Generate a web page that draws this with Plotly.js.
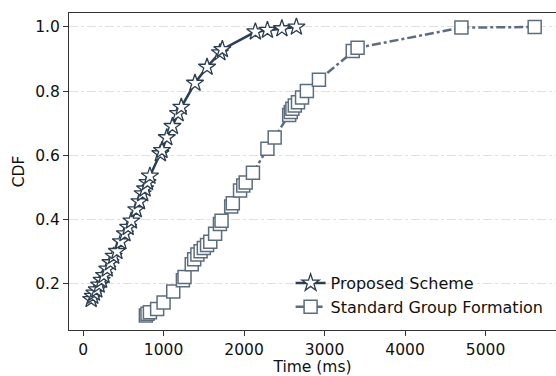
<!DOCTYPE html>
<html>
<head>
<meta charset="utf-8">
<script src="https://cdn.plot.ly/plotly-3.0.1.min.js"></script>
<style>html,body{margin:0;padding:0;background:#fff}#chart{width:556px;height:376px}</style>
</head>
<body>
<div id="chart"></div>
<script>
const proposedTime = [100,120,140,170,200,230,260,300,340,380,420,470,520,560,600,660,700,740,770,800,830,960,980,1040,1110,1180,1220,1390,1540,1700,1730,2140,2290,2470,2650];
const proposedCDF  = [0.150,0.160,0.170,0.180,0.195,0.210,0.225,0.245,0.265,0.285,0.300,0.330,0.355,0.375,0.395,0.430,0.455,0.480,0.495,0.515,0.535,0.605,0.615,0.655,0.690,0.730,0.750,0.825,0.875,0.920,0.930,0.985,0.990,0.995,1.000];
const standardTime = [780,800,830,920,1000,1120,1240,1260,1350,1380,1420,1460,1500,1540,1580,1640,1700,1720,1840,1860,1950,1990,2020,2110,2290,2380,2560,2580,2600,2630,2670,2720,2780,2930,3350,3410,4700,5610];
const standardCDF  = [0.100,0.105,0.110,0.120,0.140,0.175,0.210,0.220,0.260,0.275,0.290,0.300,0.310,0.320,0.330,0.355,0.385,0.395,0.440,0.450,0.490,0.505,0.515,0.545,0.620,0.655,0.725,0.735,0.745,0.755,0.765,0.780,0.800,0.835,0.925,0.935,0.998,1.000];
const seriesNames = ['Proposed Scheme','Standard Group Formation'];
const xTicks = [0,1000,2000,3000,4000,5000];
const yTicks = [0.2,0.4,0.6,0.8,1.0];

const c1 = '#2c3e50', c2 = '#5d6d7e';
const traces = [
  {x: proposedTime, y: proposedCDF, name: seriesNames[0], mode: 'lines+markers',
   line: {color: c1, width: 2.5},
   marker: {symbol: 'star', size: 13, color: '#ffffff', line: {color: c1, width: 1.3}}},
  {x: standardTime, y: standardCDF, name: seriesNames[1], mode: 'lines+markers',
   line: {color: c2, width: 2.5, dash: 'dashdot'},
   marker: {symbol: 'square', size: 13, color: '#ffffff', line: {color: c2, width: 1.5}}}
];
const font = {family: 'DejaVu Sans, sans-serif', size: 15.5, color: '#111'};
const layout = {
  width: 556, height: 376,
  margin: {l: 69, r: 0, t: 13, b: 46},
  paper_bgcolor: '#fff', plot_bgcolor: '#fff',
  font: font,
  showlegend: true,
  legend: {x: 0.455, y: 0.019, xanchor: 'left', yanchor: 'bottom', bgcolor: 'rgba(255,255,255,0)',
           font: {family: 'DejaVu Sans, sans-serif', size: 16, color: '#111'}, tracegroupgap: 0},
  xaxis: {range: [-175, 5875], tickvals: xTicks, ticktext: xTicks.map(String),
          showgrid: false, zeroline: false, showline: true, mirror: true, linecolor: '#333', linewidth: 1,
          ticks: 'outside', ticklen: 5, tickcolor: '#333',
          title: {text: 'Time (ms)', font: font, standoff: 2}},
  yaxis: {range: [0.0545, 1.0436], tickvals: yTicks, ticktext: yTicks.map(v => v.toFixed(1)),
          showgrid: true, gridcolor: '#e0e0e0', griddash: 'dashdot', gridwidth: 1,
          zeroline: false, showline: true, linecolor: '#333', linewidth: 1,
          ticks: 'outside', ticklen: 5, tickcolor: '#333',
          title: {text: 'CDF', font: font, standoff: 6}}
};
Plotly.newPlot('chart', traces, layout, {displayModeBar: false, staticPlot: true});
</script>
</body>
</html>
